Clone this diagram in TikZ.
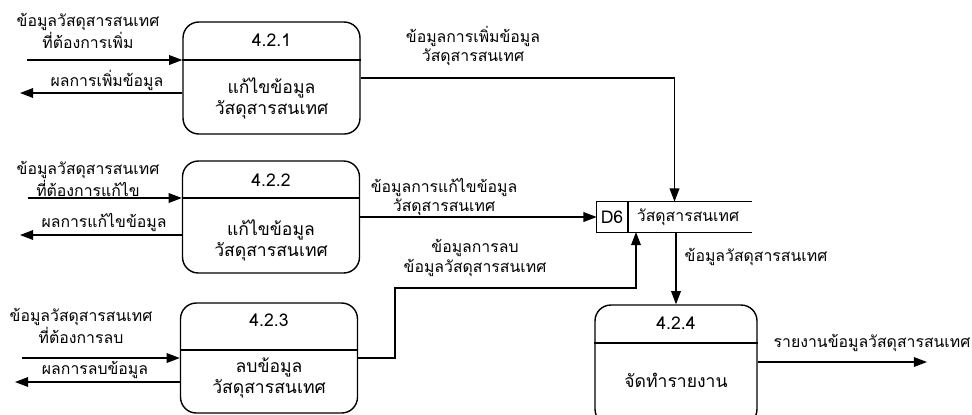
\documentclass[tikz,border=0pt]{standalone}
\usepackage{fontspec}
\setmainfont[Script=Thai]{Loma}
\usetikzlibrary{arrows.meta}

\tikzset{
	proc/.style={draw, thick, rounded corners=9pt, minimum width=3.54cm, minimum height=2.24cm},
	flow/.style={thick, -{Triangle[length=7.5pt,width=5.5pt]}},
	lbl/.style={font=\small, align=center, inner sep=1pt},
	body/.style={align=center, inner sep=1pt}
}

\begin{document}
\begin{tikzpicture}[x=0.02cm,y=-0.02cm]
		\useasboundingbox (0,0) rectangle (972,414);
		% processes
		\node[proc] (p1) at (271.5,78) {};
		\node[proc] (p2) at (271,217) {};
		\node[proc, minimum height=2.2cm] (p3) at (269,358) {};
		\node[proc, minimum width=3.24cm, minimum height=2.4cm] (p4) at (676,365) {};
		\draw[thick] (p1.west |- 0,60) -- (p1.east |- 0,60);
		\draw[thick] (p2.west |- 0,198) -- (p2.east |- 0,198);
		\draw[thick] (p3.west |- 0,350) -- (p3.east |- 0,350);
		\draw[thick] (p4.west |- 0,343) -- (p4.east |- 0,343);
		\node (t1) at (271.5,40) {4.2.1};
		\node (t2) at (271,180) {4.2.2};
		\node (t3) at (269,320) {4.2.3};
		\node (t4) at (676,323) {4.2.4};
		\node[body] (n1) at (271.5,98) {แก้ไขข้อมูล\\วัสดุสารสนเทศ};
		\node[body] (n2) at (271,240) {แก้ไขข้อมูล\\วัสดุสารสนเทศ};
		\node[body] (n3) at (269,378) {ลบข้อมูล\\วัสดุสารสนเทศ};
		\node[body] (n4) at (676,380) {จัดทำรายงาน};
		% data store
		\node[minimum width=3.1cm, minimum height=0.6cm, inner sep=0pt] (ds) at (674.5,217) {};
		\draw[thick] (ds.north east) -- (ds.north west) -- (ds.south west) -- (ds.south east);
		\draw[thick] (628,202) -- (628,232);
		\node (dsid) at (612,217) {D6};
		\node[lbl] (dsname) at (688,217) {วัสดุสารสนเทศ};
		% external flows
		\coordinate (i1) at (27,60);
		\coordinate (o1) at (20,93);
		\coordinate (i2) at (28,198);
		\coordinate (o2) at (20,235);
		\coordinate (i3) at (22,358);
		\coordinate (o3) at (15,382);
		\coordinate (o4) at (927,362);
		\draw[flow] (i1) -- (p1.west |- i1);
		\draw[flow] (p1.west |- o1) -- (o1);
		\draw[flow] (i2) -- (p2.west |- i2);
		\draw[flow] (p2.west |- o2) -- (o2);
		\draw[flow] (i3) -- (p3.west |- i3);
		\draw[flow] (p3.west |- o3) -- (o3);
		\draw[flow] (p4.east |- o4) -- (o4);
		% flows to and from the store
		\coordinate (b3) at (395,288);
		\coordinate (s3) at (636,232);
		\draw[flow] (p1.east) -| (ds.north);
		\draw[flow] (p2.east) -- (ds.west);
		\draw[flow] (p3.east) -| (b3) -| (s3);
		\draw[flow] (ds.south -| p4.north) -- (p4.north);
		% labels
		\node[lbl] (li1) at (88,31) {ข้อมูลวัสดุสารสนเทศ\\ที่ต้องการเพิ่ม};
		\node[lbl] (lo1) at (107,80) {ผลการเพิ่มข้อมูล};
		\node[lbl] (li2) at (88,179) {ข้อมูลวัสดุสารสนเทศ\\ที่ต้องการแก้ไข};
		\node[lbl] (lo2) at (104,222) {ผลการแก้ไขข้อมูล};
		\node[lbl] (li3) at (81,326) {ข้อมูลวัสดุสารสนเทศ\\ที่ต้องการลบ};
		\node[lbl] (lo3) at (95,370) {ผลการลบข้อมูล};
		\node[lbl] (lf1) at (473,46) {ข้อมูลการเพิ่มข้อมูล\\วัสดุสารสนเทศ};
		\node[lbl] (lf2) at (444,197) {ข้อมูลการแก้ไขข้อมูล\\วัสดุสารสนเทศ};
		\node[lbl] (lf3) at (475,258) {ข้อมูลการลบ\\ข้อมูลวัสดุสารสนเทศ};
		\node[lbl] (lf4) at (756,257) {ข้อมูลวัสดุสารสนเทศ};
		\node[lbl] (lo4) at (872,343) {รายงานข้อมูลวัสดุสารสนเทศ};
\end{tikzpicture}
\end{document}
